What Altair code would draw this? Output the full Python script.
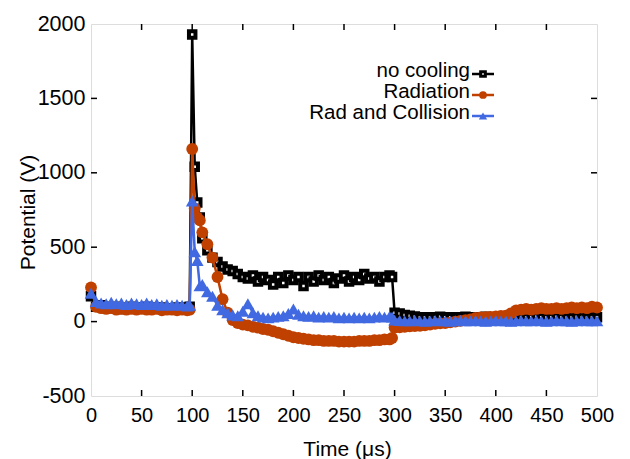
import altair as alt
import pandas as pd

# ---- data -------------------------------------------------------------
times = (list(range(0, 100, 5)) + [97.5] + [100, 102.5, 105, 107.5, 110]
         + list(range(115, 300, 5)) + [297.5] + list(range(300, 505, 5)))

no_cooling = (
    [170, 100, 110, 100, 95, 100, 85, 95, 100, 90, 95, 100, 95, 90, 95, 90, 85, 95, 90, 95] + [100]
    + [1930, 1040, 800, 700, 560]
    + [480, 430, 400, 370, 350, 340, 320, 300, 290, 310, 270, 300, 280, 250, 300, 260, 310, 280, 300, 240,
       300, 270, 310, 280, 300, 260, 290, 310, 270, 300, 280, 320, 290, 300, 270, 300, 310]
    + [300]
    + [60, 55, 45, 40, 35, 30, 30, 28, 30, 32, 30, 30, 28, 30, 32, 30, 28, 30, 32, 30,
       30, 28, 30, 32, 35, 30, 28, 30, 32, 30, 28, 30, 32, 30, 28, 30, 32, 30, 28, 30, 30]
)

radiation = (
    [230, 100, 90, 85, 90, 80, 85, 80, 85, 80, 85, 80, 80, 85, 75, 80, 80, 75, 80, 75] + [80]
    + [1160, 760, 700, 680, 600]
    + [520, 430, 300, 150, 60, 10, -10, -20, -25, -35, -40, -50, -55, -65, -75, -85, -95, -105, -110, -115,
       -120, -125, -125, -130, -130, -130, -135, -135, -135, -135, -130, -130, -130, -125, -125, -120, -120]
    + [-110]
    + [-40, -38, -35, -32, -30, -28, -25, -20, -15, -12, -10, -5, 0, 5, 10, 15, 25, 28, 30, 32,
       35, 38, 40, 55, 75, 80, 85, 80, 85, 90, 85, 85, 90, 85, 90, 95, 90, 95, 90, 100, 95]
)

rad_collision = (
    [190, 135, 125, 120, 130, 120, 125, 115, 125, 120, 115, 125, 115, 120, 110, 115, 110, 115, 110, 105] + [110]
    + [810, 470, 410, 240, 250]
    + [200, 170, 110, 80, 60, 45, 40, 70, 120, 60, 40, 30, 25, 30, 35, 40, 55, 85, 50, 40,
       35, 40, 30, 35, 30, 35, 25, 30, 25, 30, 25, 30, 25, 30, 35, 30, 35]
    + [30]
    + [10, 8, 5, 5, 8, 5, 3, 5, 8, 5, 5, 3, 5, 8, 5, 5, 8, 5, 3, 5,
       8, 5, 5, 3, 5, 8, 5, 5, 8, 5, 3, 5, 8, 5, 5, 3, 5, 8, 5, 5, 5]
)

series_names = ["no cooling", "Radiation", "Rad and Collision"]
series_values = [no_cooling, radiation, rad_collision]
colors = ["#000000", "#C04000", "#4169E1"]
shapes = ["square", "circle", "triangle-up"]

x_ticks = [0, 50, 100, 150, 200, 250, 300, 350, 400, 450, 500]
y_ticks = [-500, 0, 500, 1000, 1500, 2000]

# ---- layout -----------------------------------------------------------
W, H = 506, 372
FONT = "Liberation Sans"

xscale = alt.Scale(domain=[0, 500], nice=False, zero=False)
yscale = alt.Scale(domain=[-500, 2000], nice=False, zero=False)

xaxis = alt.Axis(values=x_ticks, ticks=False, domain=False, grid=False, labelFlush=False,
                 labelExpr="'' + datum.value",
                 labelFont=FONT, labelFontSize=20, labelColor="black", labelPadding=9,
                 title="Time (μs)", titleFont=FONT, titleFontSize=21, titleFontWeight="normal",
                 titleColor="black", titleX=256, titleY=59, titleBaseline="alphabetic")
yaxis = alt.Axis(values=y_ticks, ticks=False, domain=False, grid=False, labelFlush=False,
                 labelExpr="'' + datum.value",
                 labelFont=FONT, labelFontSize=21.5, labelColor="black", labelPadding=6,
                 title="Potential (V)", titleFont=FONT, titleFontSize=21, titleFontWeight="normal",
                 titleColor="black", titleX=-63, titleY=188, titleAngle=-90,
                 titleAlign="center", titleBaseline="middle")

X = lambda f: alt.X(f, scale=xscale, axis=xaxis)
Y = lambda f: alt.Y(f, scale=yscale, axis=yaxis)

layers = []

# inward ticks on all four sides
xt = pd.DataFrame({"t": x_ticks[1:-1]})
yt = pd.DataFrame({"v": y_ticks[1:-1]})
layers.append(alt.Chart(xt).mark_rule(color="black", strokeWidth=1.5).encode(
    x=X("t:Q"), y=alt.value(H), y2=alt.value(H - 6)))
layers.append(alt.Chart(xt).mark_rule(color="black", strokeWidth=1.5).encode(
    x=X("t:Q"), y=alt.value(0), y2=alt.value(6)))
layers.append(alt.Chart(yt).mark_rule(color="black", strokeWidth=1.5).encode(
    y=Y("v:Q"), x=alt.value(0), x2=alt.value(6)))
layers.append(alt.Chart(yt).mark_rule(color="black", strokeWidth=1.5).encode(
    y=Y("v:Q"), x=alt.value(W), x2=alt.value(W - 6)))

# series
for name, vals, col, shp in zip(series_names, series_values, colors, shapes):
    df = pd.DataFrame({"t": times, "v": vals})
    base = alt.Chart(df).encode(x=X("t:Q"), y=Y("v:Q"))
    layers.append(base.mark_line(color=col, strokeWidth=2.5))
    if shp == "square":
        pts = base.mark_point(shape="square", filled=True, fill="white", stroke=col,
                              strokeWidth=4, size=42, opacity=1)
    elif shp == "circle":
        pts = base.mark_point(shape="circle", filled=True, color=col, size=140, opacity=1)
    else:
        pts = base.mark_point(shape="triangle-up", filled=True, color=col, size=160, opacity=1)
    layers.append(pts)

# manual legend (symbols on the right of right-aligned labels)
leg_text_y = [53, 74, 95]
leg_sym_y = [50, 71, 92]
for name, col, shp, ty, sy in zip(series_names, colors, shapes, leg_text_y, leg_sym_y):
    ld = pd.DataFrame({"label": [name]})
    lc = alt.Chart(ld)
    layers.append(lc.mark_text(align="right", baseline="alphabetic", font=FONT, fontSize=20.5,
                               color="black").encode(text="label:N", x=alt.value(379), y=alt.value(ty)))
    layers.append(lc.mark_rule(color=col, strokeWidth=2.5).encode(
        x=alt.value(381), x2=alt.value(403), y=alt.value(sy)))
    if shp == "square":
        sym = lc.mark_point(shape="square", filled=True, fill="white", stroke=col, strokeWidth=3, size=22, opacity=1)
    elif shp == "circle":
        sym = lc.mark_point(shape=shp, filled=True, color=col, size=60, opacity=1)
    else:
        sym = lc.mark_point(shape=shp, filled=True, color=col, size=70, opacity=1)
    layers.append(sym.encode(x=alt.value(392), y=alt.value(sy)))

chart = alt.layer(*layers).properties(
    width=W, height=H,
    autosize=alt.AutoSizeParams(type="none"),
    padding={"left": 83, "top": 16, "right": 25, "bottom": 63},
).configure_view(stroke="black", strokeWidth=2).configure(background="white")

chart.save("out.html", embed_options={"renderer": "svg", "actions": False})
